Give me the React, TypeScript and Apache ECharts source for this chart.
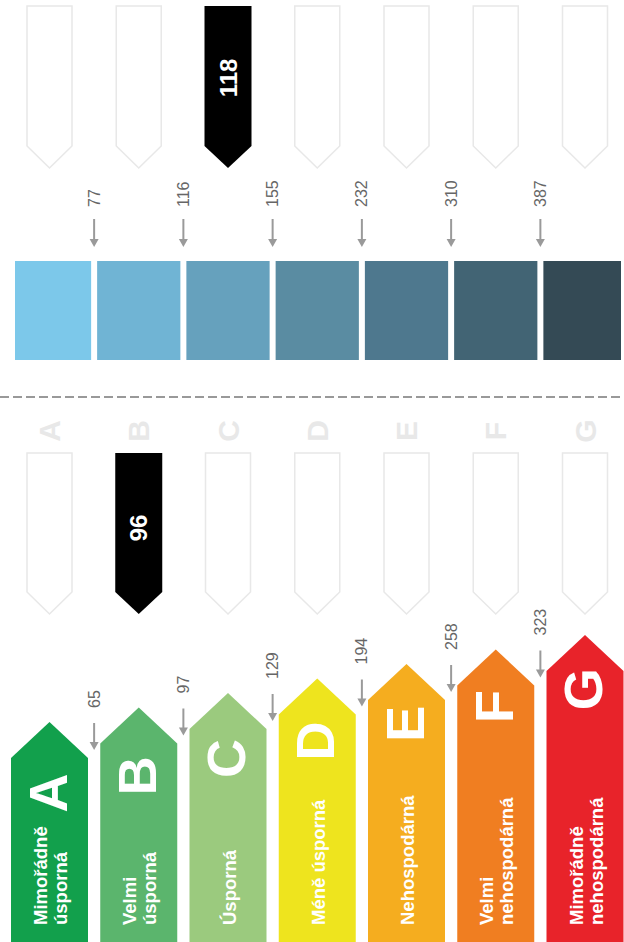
import React, { useEffect, useRef } from 'react';
import * as echarts from 'echarts';

// ---- data ----
const classes = ['A', 'B', 'C', 'D', 'E', 'F', 'G'];
const classLabels = [
  'Mimořádně\núsporná',
  'Velmi\núsporná',
  'Úsporná',
  'Méně úsporná',
  'Nehospodárná',
  'Velmi\nnehospodárná',
  'Mimořádně\nnehospodárná',
];
const classColors = ['#12a04c', '#5bb56d', '#9bca7e', '#eee41e', '#f5ad1f', '#f07e21', '#e8232a'];
const deliveredThresholds = [65, 97, 129, 194, 258, 323];
const deliveredValue = 96;
const primaryThresholds = [77, 116, 155, 232, 310, 387];
const primaryValue = 118;
const primaryColors = ['#7cc8ea', '#70b4d4', '#66a1bd', '#5a8ca2', '#4e788e', '#426474', '#344a55'];

const FONT = '"Liberation Sans", Arial, Helvetica, sans-serif';
const ROT = Math.PI / 2;
const GRAY = '#9a9a9a';

function classIndex(value: number, thresholds: number[]) {
  return thresholds.filter((t) => value > t).length;
}

function grayArrow(x: number, yTop: number, yBottom: number) {
  return [
    { type: 'line', shape: { x1: x, y1: yTop, x2: x, y2: yBottom - 6 }, style: { stroke: GRAY, lineWidth: 2 } },
    {
      type: 'polygon',
      shape: { points: [[x - 4.5, yBottom - 8], [x + 4.5, yBottom - 8], [x, yBottom]] },
      style: { fill: GRAY },
    },
  ];
}

function pointer(cx: number, top: number, shoulder: number, tip: number, selected: boolean) {
  const hw = selected ? 23.5 : 22.5;
  return {
    type: 'polygon',
    shape: { points: [[cx - hw, top], [cx + hw, top], [cx + hw, shoulder], [cx, tip], [cx - hw, shoulder]] },
    style: selected ? { fill: '#000000' } : { fill: '#ffffff', stroke: '#e8e8e8', lineWidth: 1.5 },
  };
}

function valueText(x: number, y: number, v: number) {
  return {
    type: 'text',
    x,
    y,
    rotation: ROT,
    style: { text: String(v), fill: '#ffffff', fontSize: 24, fontWeight: 'bold', fontFamily: FONT, align: 'center', verticalAlign: 'middle' },
  };
}

function thresholdText(x: number, y: number, v: number) {
  return {
    type: 'text',
    x,
    y,
    rotation: ROT,
    style: { text: String(v), fill: '#666666', fontSize: 16, fontFamily: FONT, align: 'left', verticalAlign: 'middle' },
  };
}

export default function App() {
  const ref = useRef<HTMLDivElement>(null);

  useEffect(() => {
    if (!ref.current) return;
    const chart = echarts.init(ref.current, undefined, { renderer: 'svg' });
    const primaryIdx = classIndex(primaryValue, primaryThresholds);
    const deliveredIdx = classIndex(deliveredValue, deliveredThresholds);
    const data = classes.map((_, i) => [i, 0]);

    const option = {
      animation: false,
      grid: { left: 49.5, right: 39, top: 0, bottom: 0 },
      xAxis: { type: 'value', min: 0, max: 6, show: false },
      yAxis: { type: 'value', min: 0, max: 942, inverse: true, show: false },
      graphic: [
        {
          type: 'line',
          shape: { x1: 0, y1: 397, x2: 624, y2: 397 },
          style: { stroke: '#999999', lineWidth: 2, lineDash: [9, 4] },
        },
      ],
      series: [
        {
          name: 'Primární energie',
          type: 'custom',
          clip: false,
          data,
          renderItem: (params: any, api: any) => {
            const i = api.value(0);
            const Y = (v: number) => api.coord([i, v])[1];
            const cx = api.coord([i, 0])[0];
            const colW = api.size([1, 0])[0];
            const sel = i === primaryIdx;
            const children: any[] = [pointer(cx, Y(6), Y(146), Y(168), sel)];
            if (sel) children.push(valueText(cx, Y(78), primaryValue));
            const left = i === 0 ? 15 : cx - colW / 2 + 3;
            const right = i === classes.length - 1 ? 621 : cx + colW / 2 - 3;
            children.push({
              type: 'rect',
              shape: { x: left, y: Y(261), width: right - left, height: Y(360) - Y(261) },
              style: { fill: primaryColors[i] },
            });
            if (i < primaryThresholds.length) {
              const bx = cx + colW / 2;
              children.push(thresholdText(bx, Y(207), primaryThresholds[i]));
              children.push(...grayArrow(bx, Y(219), Y(247)));
            }
            return { type: 'group', children };
          },
        },
        {
          name: 'Celková dodaná energie',
          type: 'custom',
          clip: false,
          data,
          renderItem: (params: any, api: any) => {
            const i = api.value(0);
            const Y = (v: number) => api.coord([i, v])[1];
            const cx = api.coord([i, 0])[0];
            const colW = api.size([1, 0])[0];
            const sel = i === deliveredIdx;
            const children: any[] = [];
            children.push({
              type: 'text',
              x: cx,
              y: Y(431),
              rotation: ROT,
              style: { text: classes[i], fill: '#e8e8e8', fontSize: 30, fontWeight: 'bold', fontFamily: FONT, align: 'center', verticalAlign: 'middle' },
            });
            children.push(pointer(cx, Y(453), Y(592), Y(614), sel));
            if (sel) children.push(valueText(cx, Y(528), deliveredValue));
            // coloured class arrow
            const tip = 722 - i * 14.5;
            const hw = 38.5;
            children.push({
              type: 'polygon',
              shape: {
                points: [
                  [cx - hw, Y(942)],
                  [cx - hw, Y(tip + 36)],
                  [cx, Y(tip)],
                  [cx + hw, Y(tip + 36)],
                  [cx + hw, Y(942)],
                ],
              },
              style: { fill: classColors[i] },
            });
            children.push({
              type: 'text',
              x: cx - 2,
              y: Y(793 - i * 17.3),
              rotation: ROT,
              style: { text: classes[i], fill: '#ffffff', fontSize: 54, fontWeight: 'bold', fontFamily: FONT, align: 'center', verticalAlign: 'middle' },
            });
            children.push({
              type: 'text',
              x: cx + 1,
              y: Y(925),
              rotation: ROT,
              style: {
                text: classLabels[i],
                fill: '#ffffff',
                fontSize: 18.5,
                lineHeight: 20,
                fontWeight: 'bold',
                fontFamily: FONT,
                align: 'left',
                verticalAlign: 'middle',
              },
            });
            if (i < deliveredThresholds.length) {
              const bx = cx + colW / 2;
              children.push(thresholdText(bx, Y(tip - 14), deliveredThresholds[i]));
              children.push(...grayArrow(bx, Y(tip + 1), Y(tip + 28)));
            }
            return { type: 'group', children };
          },
        },
      ],
    };
    chart.setOption(option as any);
    return () => chart.dispose();
  }, []);

  return (
    <div
      ref={ref}
      style={{ position: 'absolute', left: 0, top: 0, width: 624, height: 942, background: '#ffffff' }}
    />
  );
}
